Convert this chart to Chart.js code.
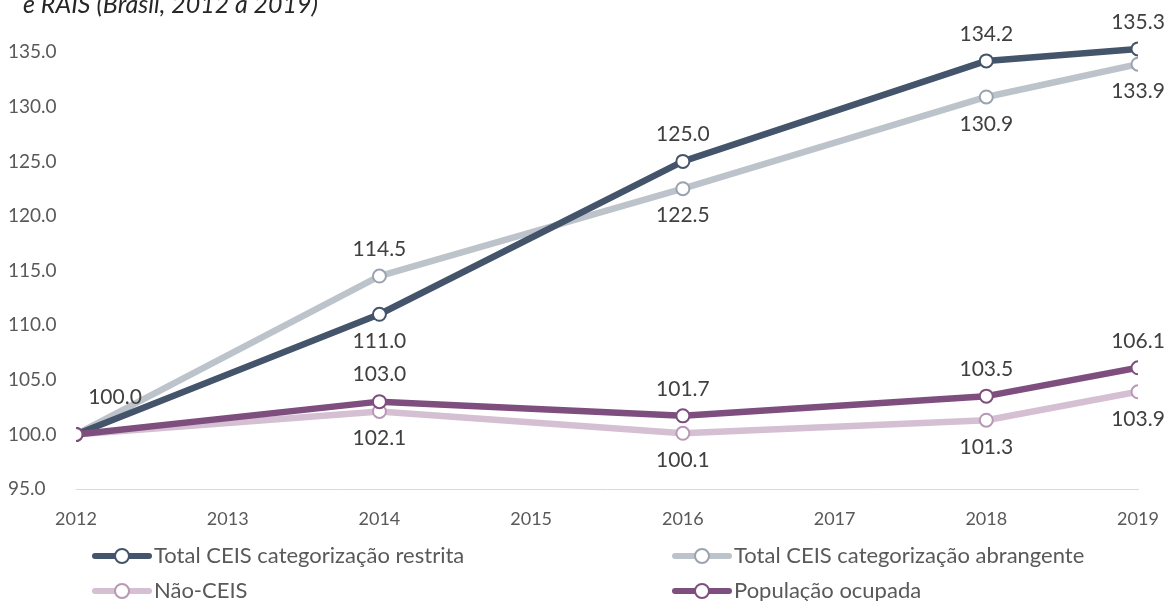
<!DOCTYPE html>
<html>
<head>
<meta charset="utf-8">
<script src="https://cdn.jsdelivr.net/npm/chart.js@4.4.0/dist/chart.umd.min.js"></script>
<style>
  html,body{margin:0;padding:0;background:#fff;}
  #wrap{position:relative;width:1168px;height:601px;}
</style>
</head>
<body>
<div id="wrap"><canvas id="c" width="1168" height="601"></canvas></div>
<script>
// ---- data ----
const years = [2012, 2014, 2016, 2018, 2019];
const restrita = [100.0, 111.0, 125.0, 134.2, 135.3];
const abrangente = [100.0, 114.5, 122.5, 130.9, 133.9];
const naoCeis = [100.0, 102.1, 100.1, 101.3, 103.9];
const popOcupada = [100.0, 103.0, 101.7, 103.5, 106.1];
const yTicks = [95, 100, 105, 110, 115, 120, 125, 130, 135];
const xTicks = [2012, 2013, 2014, 2015, 2016, 2017, 2018, 2019];
const seriesNames = ['Total CEIS categorização restrita', 'Total CEIS categorização abrangente', 'Não-CEIS', 'População ocupada'];
const titleText = 'e RAIS (Brasil, 2012 a 2019)';

// label placement per point: 1 above, -1 below, 0 none
const placeRestrita = [0, -1, 1, 1, 1];
const placeAbr = [0, 1, -1, -1, -1];
const placeNao = [0, -1, -1, -1, -1];
const placePop = [0, 1, 1, 1, 1];

const FONT = 'Lato, "Open Sans", sans-serif';

function pts(vals){ return years.map((x,i)=>({x:x, y:vals[i]})); }

function ds(label, vals, color, ptBorder, order, place){
  return {
    label: label, data: pts(vals), borderColor: color, backgroundColor: color,
    borderWidth: 6.5, pointRadius: 6.5, pointHoverRadius: 6.5, pointBorderWidth: 2,
    pointBackgroundColor: '#ffffff', pointBorderColor: ptBorder,
    tension: 0, order: order, _place: place, borderCapStyle: 'round', borderJoinStyle: 'round'
  };
}

const datasets = [
  ds(seriesNames[0], restrita, '#44546a', '#44546a', 1, placeRestrita),
  ds(seriesNames[1], abrangente, '#bdc3ca', '#9aa3ae', 3, placeAbr),
  ds(seriesNames[2], naoCeis, '#d5bfd3', '#b898b5', 2, placeNao),
  ds(seriesNames[3], popOcupada, '#7e4f7e', '#7e4f7e', 0, placePop)
];

const labelPlugin = {
  id: 'labels',
  afterDatasetsDraw(chart){
    const ctx = chart.ctx;
    ctx.save();
    ctx.font = '21px ' + FONT;
    ctx.fillStyle = '#404040';
    ctx.textAlign = 'center';
    ctx.textBaseline = 'middle';
    chart.data.datasets.forEach((d, di) => {
      const meta = chart.getDatasetMeta(di);
      meta.data.forEach((el, i) => {
        const p = d._place[i];
        if (!p) return;
        const v = d.data[i].y.toFixed(1);
        ctx.fillText(v, el.x, el.y - p * 27);
      });
    });
    // single 2012 label
    const el0 = chart.getDatasetMeta(0).data[0];
    ctx.fillText(restrita[0].toFixed(1), el0.x + 39, el0.y - 37);
    // title (cropped at top)
    ctx.font = 'italic 25px ' + FONT;
    ctx.fillStyle = '#262626';
    ctx.textAlign = 'left';
    ctx.textBaseline = 'alphabetic';
    ctx.fillText(titleText, 23, 13);
    // legend
    const pos = [[92,556],[672,556],[92,591],[672,591]];
    ctx.font = '22px ' + FONT;
    chart.data.datasets.forEach((d, di) => {
      const [x, y] = pos[di];
      ctx.strokeStyle = d.borderColor;
      ctx.lineWidth = 6;
      ctx.lineCap = 'round';
      ctx.beginPath(); ctx.moveTo(x+3, y); ctx.lineTo(x+57, y); ctx.stroke();
      ctx.beginPath(); ctx.arc(x+30, y, 7, 0, Math.PI*2);
      ctx.fillStyle = '#fff'; ctx.fill();
      ctx.lineWidth = 2; ctx.strokeStyle = d.pointBorderColor; ctx.stroke();
      ctx.fillStyle = '#595959';
      ctx.textBaseline = 'middle';
      ctx.fillText(d.label, x + 62, y);
    });
    ctx.restore();
  }
};

new Chart(document.getElementById('c'), {
  type: 'line',
  data: { datasets: datasets },
  options: {
    responsive: false,
    animation: false,
    devicePixelRatio: 1,
    layout: { padding: { left: 8, right: 30, top: 0, bottom: 70 } },
    plugins: { legend: { display: false }, tooltip: { enabled: false }, title: { display: false } },
    scales: {
      x: {
        type: 'linear', min: 2012, max: 2019,
        afterBuildTicks(s){ s.ticks = xTicks.map(v=>({value:v})); },
        afterFit(s){ s.height = 42; s.paddingLeft = 0; s.paddingRight = 0; },
        grid: { display: false, drawTicks: false },
        border: { display: true, color: '#d9d9d9', width: 1 },
        ticks: { color: '#595959', font: { family: FONT, size: 18 }, padding: 19, maxRotation: 0,
                 callback: v => String(v) }
      },
      y: {
        type: 'linear', min: 95, max: 139,
        afterBuildTicks(s){ s.ticks = yTicks.map(v=>({value:v})); },
        afterFit(s){ s.width = 68; s.paddingTop = 0; s.paddingBottom = 0; },
        grid: { display: false, drawTicks: false },
        border: { display: false },
        ticks: { color: '#595959', font: { family: FONT, size: 19 }, crossAlign: 'far',
                 callback: v => Number(v).toFixed(1) }
      }
    }
  },
  plugins: [labelPlugin]
});
</script>
</body>
</html>
